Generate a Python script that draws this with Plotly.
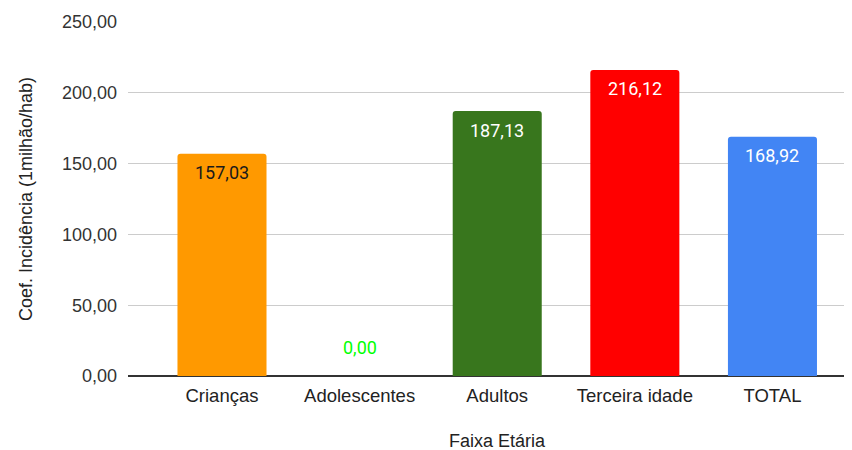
import plotly.graph_objects as go

categories = ["Crianças", "Adolescentes", "Adultos", "Terceira idade", "TOTAL"]
values = [157.03, 0.00, 187.13, 216.12, 168.92]
bar_colors = ["#ff9900", "#ff9900", "#38761d", "#ff0000", "#4285f4"]
label_colors = ["#1a1a1a", "#00ff00", "#ffffff", "#ffffff", "#ffffff"]
y_ticks = [0, 50, 100, 150, 200, 250]

fig = go.Figure()
fig.add_trace(go.Bar(
    x=categories, y=values,
    marker=dict(color=bar_colors, line=dict(width=0), cornerradius=3),
    width=0.647,
    hoverinfo="skip",
))

for c, v, lc in zip(categories, values, label_colors):
    fig.add_annotation(
        x=c, y=v, text=f"{v:.2f}".replace(".", ","),
        showarrow=False, yshift=(29 if v == 0 else -19),
        font=dict(family="Roboto", size=18, color=lc),
    )

# x-axis title (centred on the full, partly off-screen plot area)
fig.add_annotation(
    x=0.5097, xref="paper", y=0, yref="paper", yanchor="middle", yshift=-65,
    text="Faixa Etária", showarrow=False,
    font=dict(size=18, color="#222222"),
)

fig.update_layout(
    width=844, height=442,
    margin=dict(l=120, r=0, t=14, b=74),
    paper_bgcolor="white", plot_bgcolor="white",
    separators=",.",
    showlegend=False,
    font=dict(family="Liberation Sans, Arial", size=18, color="#222222"),
)
fig.update_xaxes(
    range=[-0.683, 4.578],
    showgrid=False, showline=False, ticks="",
    ticklabelstandoff=6,
    tickfont=dict(size=18.5, color="#222222"),
)
fig.update_yaxes(
    range=[0, 250], tickvals=y_ticks, tickformat=".2f",
    showgrid=True, gridcolor="#cccccc", gridwidth=1,
    zeroline=True, zerolinecolor="#333333", zerolinewidth=1.5,
    ticks="", ticklabelstandoff=10,
    tickfont=dict(size=18, color="#333333"),
    title=dict(text="Coef. Incidência (1milhão/hab)", font=dict(size=18, color="#222222"), standoff=24),
)

fig.write_html("out.html")
